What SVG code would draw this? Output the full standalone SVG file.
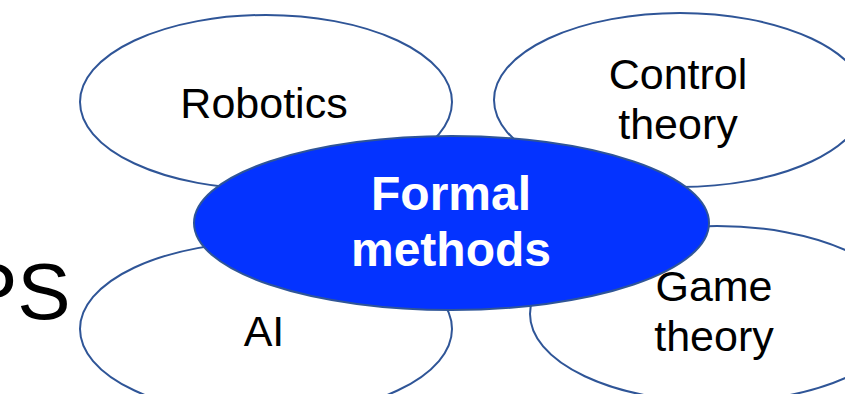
<svg xmlns="http://www.w3.org/2000/svg" width="845" height="394" viewBox="0 0 845 394">
  <style>
    .topic { fill: #ffffff; stroke: #2f5597; stroke-width: 2; }
    .core { fill: #0433ff; stroke: #2f5597; stroke-width: 2; }
    .lbl { font-family: "Liberation Sans", Arial, sans-serif; font-size: 43px; fill: #000000; text-anchor: middle; }
    .corelbl { font-family: "Liberation Sans", Arial, sans-serif; font-size: 48px; font-weight: bold; fill: #ffffff; text-anchor: middle; }
    .big { font-family: "Liberation Sans", Arial, sans-serif; font-size: 80px; fill: #000000; }
  </style>
  <rect width="845" height="394" fill="#ffffff"/>

  <text class="big" x="-36" y="319">PS</text>

  <g id="robotics">
    <ellipse class="topic" cx="266" cy="102" rx="186" ry="87"/>
    <text class="lbl" x="264" y="118">Robotics</text>
  </g>

  <g id="control-theory">
    <ellipse class="topic" cx="680" cy="100" rx="186" ry="87"/>
    <text class="lbl" x="678" y="89">Control</text>
    <text class="lbl" x="678" y="139">theory</text>
  </g>

  <g id="ai">
    <ellipse class="topic" cx="266" cy="329" rx="186" ry="87"/>
    <text class="lbl" x="264" y="346">AI</text>
  </g>

  <g id="game-theory">
    <ellipse class="topic" cx="717" cy="314" rx="187" ry="88"/>
    <text class="lbl" x="714" y="301">Game</text>
    <text class="lbl" x="714" y="351">theory</text>
  </g>

  <g id="formal-methods">
    <ellipse class="core" cx="451.5" cy="223" rx="257.5" ry="87"/>
    <text class="corelbl" x="451" y="210">Formal</text>
    <text class="corelbl" x="451" y="266">methods</text>
  </g>
</svg>
